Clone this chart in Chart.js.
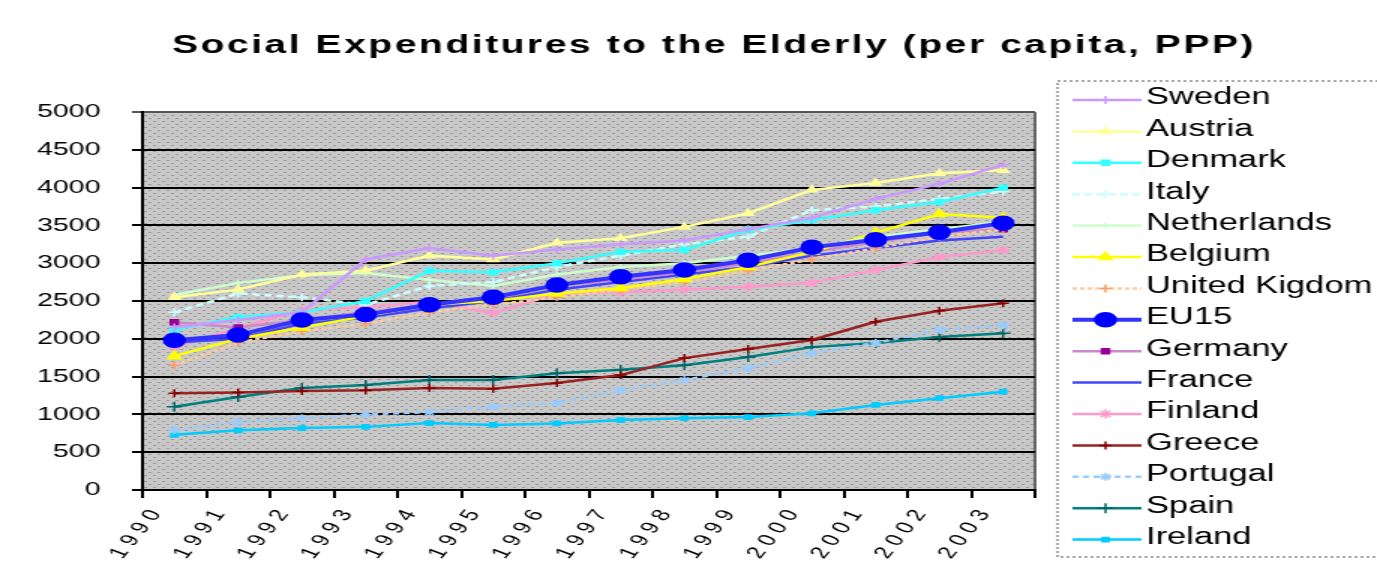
<!DOCTYPE html>
<html>
<head>
<meta charset="utf-8">
<script src="https://cdn.jsdelivr.net/npm/chart.js@4.4.1/dist/chart.umd.min.js"></script>
<style>
  html, body { margin: 0; padding: 0; background: #fff; overflow: hidden; }
</style>
</head>
<body>
<!-- drawn narrow, shown 1.5x wide: the reference picture is stretched sideways -->
<canvas id="chart" width="918" height="581" style="width:1377px;height:581px;display:block"></canvas>
<script>
const years = ['1990', '1991', '1992', '1993', '1994', '1995', '1996', '1997', '1998', '1999', '2000', '2001', '2002', '2003'];
const yTicks = { min: 0, max: 5000, step: 500 };

const sweden      = [2150, 2250, 2350, 3050, 3200, 3100, 3180, 3250, 3300, 3450, 3600, 3850, 4050, 4300];
const austria     = [2550, 2650, 2850, 2900, 3100, 3050, 3270, 3330, 3480, 3660, 3970, 4060, 4190, 4230];
const denmark     = [2120, 2290, 2350, 2500, 2900, 2880, 3000, 3150, 3175, 3440, 3570, 3700, 3810, 4000];
const italy       = [2350, 2600, 2550, 2450, 2700, 2750, 2950, 3100, 3250, 3350, 3700, 3750, 3850, 3950];
const netherlands = [2580, 2740, 2840, 2870, 2780, 2700, 2850, 2950, 3000, 3100, 3200, 3350, 3450, 3550];
const belgium     = [1770, 2000, 2150, 2300, 2450, 2500, 2600, 2670, 2790, 2950, 3150, 3400, 3650, 3600];
const unitedKingdom = [1650, 1950, 2100, 2200, 2350, 2450, 2550, 2650, 2750, 2900, 3050, 3200, 3350, 3450];
const eu15        = [1980, 2050, 2250, 2320, 2450, 2550, 2710, 2820, 2910, 3040, 3210, 3310, 3410, 3530];
const germany     = [2220, 2150, 2250, 2350, 2450, 2550, 2700, 2780, 2880, 3000, 3150, 3280, 3400, 3450];
const france      = [1950, 2000, 2200, 2280, 2400, 2500, 2650, 2750, 2850, 2950, 3100, 3200, 3300, 3350];
const finland     = [1890, 2140, 2380, 2420, 2490, 2340, 2600, 2620, 2650, 2690, 2740, 2910, 3080, 3175];
const greece      = [1280, 1290, 1310, 1320, 1350, 1340, 1415, 1520, 1745, 1865, 1985, 2225, 2370, 2470];
const portugal    = [790, 900, 950, 1000, 1030, 1100, 1150, 1320, 1455, 1610, 1810, 1945, 2120, 2180];
const spain       = [1100, 1230, 1350, 1390, 1455, 1455, 1545, 1590, 1650, 1760, 1890, 1945, 2025, 2075];
const ireland     = [730, 790, 820, 835, 885, 860, 880, 925, 950, 965, 1015, 1125, 1215, 1300];

const FONT = '"Liberation Sans", Arial, sans-serif';

function line(label, data, color, pointStyle, extra) {
    return Object.assign({
        label: label,
        data: data,
        borderColor: color,
        backgroundColor: color,
        pointBackgroundColor: color,
        pointBorderColor: color,
        borderWidth: 2.5,
        pointStyle: pointStyle,
        pointRadius: 4,
        pointBorderWidth: 1.5,
        tension: 0,
        fill: false
    }, extra || {});
}

const datasets = [
    line('Sweden', sweden, '#CC99FF', 'cross'),
    line('Austria', austria, '#FFFF99', 'triangle'),
    line('Denmark', denmark, '#33FFFF', 'rect', { pointRadius: 3.5 }),
    line('Italy', italy, '#CCFFFF', 'cross', { borderDash: [5, 3] }),
    line('Netherlands', netherlands, '#CCFFCC', 'cross', { pointRadius: 3 }),
    line('Belgium', belgium, '#FFFF00', 'triangle', { pointRadius: 5 }),
    line('United Kigdom', unitedKingdom, '#FFCC99', 'cross', { borderDash: [3, 2], pointBorderColor: '#FF9966' }),
    line('EU15', eu15, '#3333FF', 'circle', { borderWidth: 4, pointRadius: 7, pointBackgroundColor: '#0000FF', pointBorderColor: '#0000FF', order: -1 }),
    line('Germany', germany, '#CC88CC', 'rect', { pointRadius: 3.5, pointBackgroundColor: '#990099', pointBorderColor: '#990099' }),
    line('France', france, '#4444FF', false, { pointRadius: 0 }),
    line('Finland', finland, '#FF99CC', 'star', { pointRadius: 4.5 }),
    line('Greece', greece, '#992222', 'cross', { pointBorderColor: '#880000' }),
    line('Portugal', portugal, '#99CCFF', 'star', { borderDash: [4, 3] }),
    line('Spain', spain, '#008080', 'cross', { pointRadius: 5, pointBorderColor: '#006666' }),
    line('Ireland', ireland, '#00CCFF', 'rect', { pointRadius: 3 })
];

// dotted grey plot background
function makePattern(ctx) {
    const tile = document.createElement('canvas');
    tile.width = 6;
    tile.height = 6;
    const t = tile.getContext('2d');
    t.fillStyle = '#C8C8C8';
    t.fillRect(0, 0, 6, 6);
    t.fillStyle = '#9A9A9A';
    t.fillRect(0, 1, 2, 1);
    t.fillRect(3, 4, 2, 1);
    return ctx.createPattern(tile, 'repeat');
}

const plotBackground = {
    id: 'plotBackground',
    beforeDraw(chart) {
        const ctx = chart.ctx;
        const a = chart.chartArea;
        ctx.save();
        ctx.fillStyle = '#fff';
        ctx.fillRect(0, 0, chart.width, chart.height);
        ctx.fillStyle = makePattern(ctx);
        ctx.fillRect(a.left, a.top, a.right - a.left, a.bottom - a.top);
        ctx.strokeStyle = '#666';
        ctx.lineWidth = 2;
        ctx.beginPath();
        ctx.moveTo(a.right, a.top);
        ctx.lineTo(a.right, a.bottom);
        ctx.stroke();
        ctx.restore();
    }
};

// spaced-out year labels
const spacedLabels = {
    id: 'spacedLabels',
    afterLayout(chart) {
        const xs = chart.scales.x;
        if (xs._spaced) return;
        const orig = xs.drawLabels;
        xs.drawLabels = function(area) {
            this.ctx.save();
            this.ctx.letterSpacing = '5px';
            orig.call(this, area);
            this.ctx.restore();
        };
        xs._spaced = true;
    }
};

const titleAndLegend = {
    id: 'titleAndLegend',
    afterDraw(chart) {
        const ctx = chart.ctx;
        ctx.save();
        ctx.fillStyle = '#000';
        ctx.font = 'bold 26px ' + FONT;
        ctx.letterSpacing = '1.7px';
        ctx.textAlign = 'center';
        ctx.textBaseline = 'middle';
        ctx.fillText('Social Expenditures to the Elderly (per capita, PPP)', 476, 46);
        ctx.letterSpacing = '0px';

        // legend box, right side runs off the picture
        ctx.setLineDash([2, 2]);
        ctx.strokeStyle = '#AAAAAA';
        ctx.lineWidth = 2;
        ctx.strokeRect(705, 81, 300, 476);

        ctx.font = '23px ' + FONT;
        ctx.textAlign = 'left';
        chart.data.datasets.forEach(function(ds, i) {
            const y = 100 + i * 31.4;
            ctx.setLineDash(ds.borderDash || []);
            ctx.strokeStyle = ds.borderColor;
            ctx.lineWidth = ds.borderWidth;
            ctx.beginPath();
            ctx.moveTo(715, y);
            ctx.lineTo(761, y);
            ctx.stroke();
            ctx.setLineDash([]);
            if (ds.pointStyle && ds.pointRadius > 0) {
                ctx.fillStyle = ds.pointBackgroundColor;
                ctx.strokeStyle = ds.pointBorderColor;
                ctx.lineWidth = ds.pointBorderWidth;
                Chart.helpers.drawPoint(ctx, {
                    pointStyle: ds.pointStyle,
                    radius: ds.pointRadius,
                    rotation: 0,
                    borderWidth: ds.pointBorderWidth
                }, 737, y);
            }
            ctx.fillStyle = '#000';
            ctx.fillText(ds.label, 764, y - 2);
        });
        ctx.restore();
    }
};

const ctx = document.getElementById('chart').getContext('2d');
new Chart(ctx, {
    type: 'line',
    data: { labels: years, datasets: datasets },
    options: {
        responsive: false,
        animation: false,
        layout: { padding: { top: 112, right: 228, left: 0, bottom: 0 } },
        plugins: {
            legend: { display: false },
            title: { display: false },
            tooltip: { enabled: false }
        },
        scales: {
            x: {
                offset: true,
                grid: {
                    offset: true,
                    drawOnChartArea: false,
                    drawTicks: true,
                    tickLength: 8,
                    color: '#000',
                    lineWidth: 2
                },
                border: { color: '#000', width: 2 },
                ticks: {
                    color: '#000',
                    font: { family: FONT, size: 17 },
                    minRotation: 60,
                    maxRotation: 60,
                    labelOffset: -10,
                    padding: 4,
                    autoSkip: false
                },
                afterFit(scale) { scale.height = 91; }
            },
            y: {
                min: yTicks.min,
                max: yTicks.max,
                grid: {
                    color: c => (c.tick && c.tick.value === yTicks.max ? '#555' : '#000'),
                    lineWidth: 2,
                    tickLength: 7
                },
                border: { color: '#000', width: 2 },
                ticks: {
                    stepSize: yTicks.step,
                    color: '#000',
                    padding: 21,
                    font: { family: FONT, size: 19 },
                    callback: v => String(v)
                },
                afterFit(scale) { scale.width = 95; }
            }
        }
    },
    plugins: [plotBackground, spacedLabels, titleAndLegend]
});
</script>
</body>
</html>
